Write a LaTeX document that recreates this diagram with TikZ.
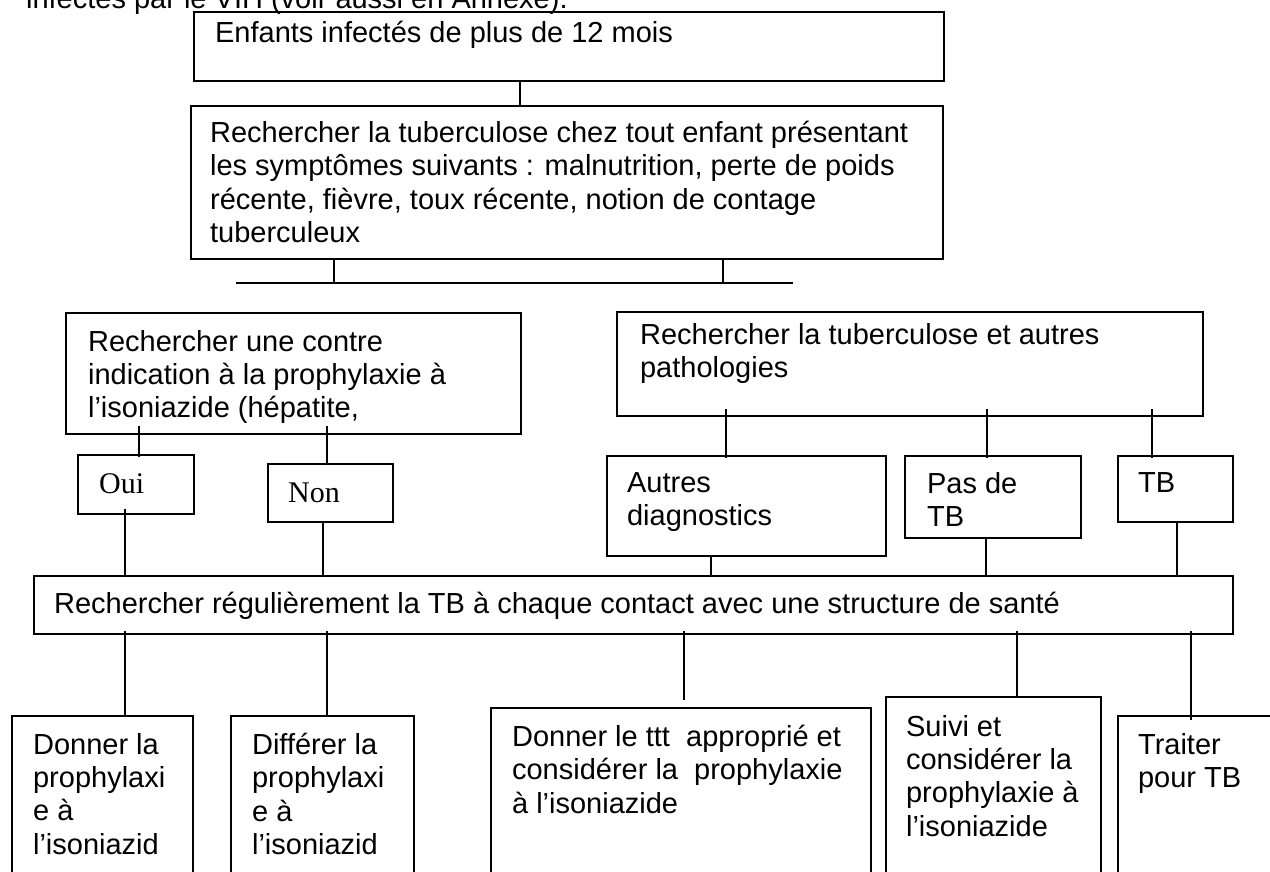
\documentclass[tikz,border=0pt]{standalone}
\usepackage{fontspec}
\setmainfont{Liberation Sans}
\newfontfamily\romainfont{Liberation Serif}

\begin{document}
\begin{tikzpicture}[x=1pt,y=-1pt,line width=2.2pt]
\tikzstyle{every node}=[inner sep=0pt]
\tikzstyle{boite}=[draw,rectangle,anchor=north west]
\tikzstyle{texte}=[anchor=north west,align=left,font=\fontsize{29}{33.4}\selectfont]
\tikzstyle{ligne}=[anchor=base west,font=\fontsize{29}{33.4}\selectfont]
\tikzstyle{romain}=[anchor=base west,font=\romainfont\fontsize{30}{34}\selectfont]
\useasboundingbox (0,0) rectangle (1270,871);
\clip (0,0) rectangle (1270,871);

   % end of the paragraph above the chart
   \node[ligne] (Intro) at (25,8) {infectés par le VIH (voir aussi en Annexe).};

   % boxes
   \node[boite,minimum width=750pt,minimum height=69pt] (Enfants) at (193,11) {};
   \node[boite,minimum width=752pt,minimum height=153pt] (Recherche) at (190,105) {};
   \node[boite,minimum width=455pt,minimum height=121pt] (ContreInd) at (65,312) {};
   \node[boite,minimum width=586pt,minimum height=104pt] (Patho) at (616,311) {};
   \node[boite,minimum width=116pt,minimum height=59pt] (Oui) at (77,454) {};
   \node[boite,minimum width=125pt,minimum height=58pt] (Non) at (267,463) {};
   \node[boite,minimum width=279pt,minimum height=100pt] (Autres) at (606,455) {};
   \node[boite,minimum width=176pt,minimum height=82pt] (PasTB) at (904,455) {};
   \node[boite,minimum width=115pt,minimum height=66pt] (TB) at (1117,455) {};
   \node[boite,minimum width=1199pt,minimum height=58pt] (Regulier) at (33,575) {};
   \node[boite,minimum width=181pt,minimum height=200pt] (Donner) at (11,715) {};
   \node[boite,minimum width=183pt,minimum height=200pt] (Differer) at (230,715) {};
   \node[boite,minimum width=380pt,minimum height=210pt] (Ttt) at (490,707) {};
   \node[boite,minimum width=215pt,minimum height=220pt] (Suivi) at (885,696) {};
   \node[boite,minimum width=200pt,minimum height=200pt] (Traiter) at (1117,715) {};

   % texts
   \node[ligne] (Enfants-t) at (214,42) {Enfants infectés de plus de 12 mois};
   \node[texte] (Recherche-t) at (209,120) {Rechercher la tuberculose chez tout enfant présentant\\les symptômes suivants : malnutrition, perte de poids\\récente, fièvre, toux récente, notion de contage\\tuberculeux};
   \node[texte] (ContreInd-t) at (87,329) {Rechercher une contre\\indication à la prophylaxie à\\l’isoniazide (hépatite,};
   \node[texte] (Patho-t) at (639,322) {Rechercher la tuberculose et autres\\pathologies};
   \node[romain] (Oui-t) at (98,493) {Oui};
   \node[romain] (Non-t) at (287,502) {Non};
   \node[texte] (Autres-t) at (626,471) {Autres\\diagnostics};
   \node[texte] (PasTB-t) at (926,471) {Pas de\\TB};
   \node[ligne] (TB-t) at (1137,492) {TB};
   \node[ligne] (Regulier-t) at (53,613) {Rechercher régulièrement la TB à chaque contact avec une structure de santé};
   \node[texte] (Donner-t) at (32,732) {Donner la\\prophylaxi\\e à\\l’isoniazid};
   \node[texte] (Differer-t) at (251,732) {Différer la\\prophylaxi\\e à\\l’isoniazid};
   \node[texte] (Ttt-t) at (511,724) {Donner le ttt\ \ approprié et\\considérer la\ \ prophylaxie\\à l’isoniazide};
   \node[texte] (Suivi-t) at (905,714) {Suivi et\\considérer la\\prophylaxie à\\l’isoniazide};
   \node[texte] (Traiter-t) at (1137,732) {Traiter\\pour TB};

   % connectors
   \coordinate (BarreG) at (236,283);
   \coordinate (BarreD) at (793,283);
   \draw (Enfants.south -| 520,0) -- (Recherche.north -| 520,0);
   \draw (BarreG) -- (BarreD);
   \draw (Recherche.south -| 334,0) -- (BarreG -| 334,0);
   \draw (Recherche.south -| 723,0) -- (BarreD -| 723,0);
   \draw[shorten <=-9pt,shorten >=-3pt] (ContreInd.south -| 139,0) -- (Oui.north -| 139,0);
   \draw[shorten <=-9pt,shorten >=-2pt] (ContreInd.south -| 327,0) -- (Non.north -| 327,0);
   \draw[shorten <=-6pt] (Oui.south -| 125,0) -- (Regulier.north -| 125,0);
   \draw (Non.south -| 323,0) -- (Regulier.north -| 323,0);
   \foreach \x/\n in {726/Autres,987/PasTB,1152/TB}
     \draw[shorten <=-8pt,shorten >=-3pt] (Patho.south -| \x,0) -- (\n.north -| \x,0);
   \foreach \x/\n in {711/Autres,986/PasTB,1177/TB}
     \draw (\n.south -| \x,0) -- (Regulier.north -| \x,0);
   \foreach \x/\n in {125/Donner,327/Differer,1017/Suivi}
     \draw[shorten <=-4pt] (Regulier.south -| \x,0) -- (\n.north -| \x,0);
   \draw[shorten <=-4pt,shorten >=7pt] (Regulier.south -| 684,0) -- (Ttt.north -| 684,0);
   \draw[shorten <=-4pt,shorten >=-5pt] (Regulier.south -| 1191,0) -- (Traiter.north -| 1191,0);

\end{tikzpicture}
\end{document}
